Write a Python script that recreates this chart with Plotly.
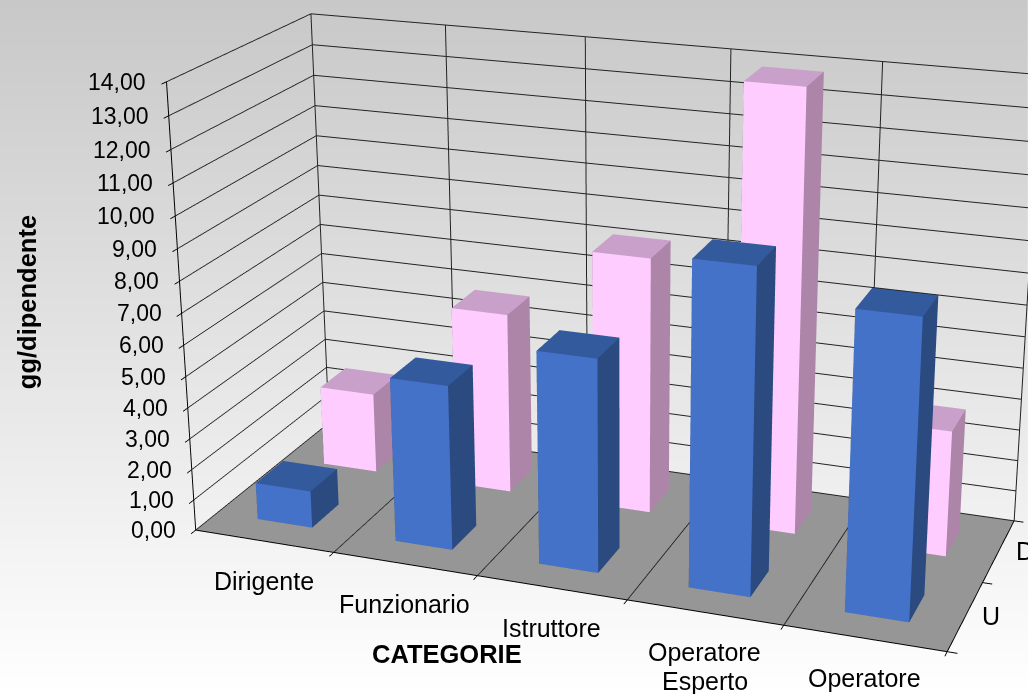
import plotly.graph_objects as go

# ---- data
categories = ["Dirigente", "Funzionario", "Istruttore", "Operatore<br>Esperto", "Operatore"]
series_names = ["U", "D"]
values_u = [1.2, 5.25, 6.7, 10.0, 9.1]
values_d = [2.65, 5.9, 8.25, 13.9, 4.0]
z_ticks = list(range(0, 15))
z_labels = [f"{v},00" for v in z_ticks]

# ---- view: the original has an off-axis, long-lens perspective. Plotly's field of
# view is fixed relative to the scene height, so the figure is larger than the window
# and is offset inside it to get the same lens.
FIG_W, FIG_H = 1280, 2055
OFF_X, OFF_Y = -39.80, -695.33
WIN_W, WIN_H = 1028, 694
EYE = dict(x=1.0035, y=-2.7213, z=1.0358)
CENTER = dict(x=0.0229, y=-0.0819, z=0.0004)
UP = dict(x=-0.1171, y=0.3247, z=0.9385)
ASPECT = dict(x=0.977, y=0.3844, z=0.5889)

FONT = "Liberation Sans"
BAR_LOW, BAR_HIGH = 0.3, 0.7
COLORS = {"U": ("#4472C8", "#2A4A80", "#345A9E"), "D": ("#FFCCFF", "#AD85A8", "#C9A0C9")}
FACES = [((0, 1, 5), 0), ((0, 5, 4), 0), ((1, 2, 6), 1), ((1, 6, 5), 1), ((4, 5, 6), 2), ((4, 6, 7), 2),
         ((3, 2, 6), 1), ((3, 6, 7), 1), ((0, 3, 7), 1), ((0, 7, 4), 1), ((0, 1, 2), 1), ((0, 2, 3), 1)]


def bar_trace(cat_i, ser_i, val, palette):
    x0, x1 = cat_i + BAR_LOW, cat_i + BAR_HIGH
    y0, y1 = ser_i + BAR_LOW, ser_i + BAR_HIGH
    return go.Mesh3d(
        x=[x0, x1, x1, x0, x0, x1, x1, x0],
        y=[y0, y0, y1, y1, y0, y0, y1, y1],
        z=[0, 0, 0, 0, val, val, val, val],
        i=[f[0][0] for f in FACES], j=[f[0][1] for f in FACES], k=[f[0][2] for f in FACES],
        facecolor=[palette[f[1]] for f in FACES], flatshading=True,
        lighting=dict(ambient=1, diffuse=0, specular=0, fresnel=0),
        hoverinfo="skip", scene="scene",
    )


fig = go.Figure()
fig.add_trace(go.Heatmap(z=[[0], [1]], x=[0, WIN_W], y=[0, WIN_H],
                         colorscale=[[0, "#c8c8c8"], [1, "#ffffff"]], showscale=False,
                         zsmooth="best", hoverinfo="skip", xaxis="x", yaxis="y"))
for s, vals in [(1, values_d), (0, values_u)]:
    for i, v in enumerate(vals):
        fig.add_trace(bar_trace(i, s, v, COLORS[series_names[s]]))

scene_text = []
for tick, label in zip(z_ticks, z_labels):
    scene_text.append(dict(x=0, y=0, z=tick, text=label, showarrow=False, xanchor="right", xshift=-18,
                           font=dict(size=23, color="black", family=FONT)))
for i, label in enumerate(categories):
    for n, line in enumerate(label.split("<br>")):
        scene_text.append(dict(x=i + .5, y=0, z=0, text=line, showarrow=False, xanchor="center",
                               yanchor="top", yshift=-24 - 29 * n,
                               font=dict(size=25, color="black", family=FONT)))
for i, label in enumerate(series_names):
    scene_text.append(dict(x=5, y=i + .5, z=0, text=label, showarrow=False, xanchor="center", xshift=26,
                           font=dict(size=25, color="black", family=FONT)))

axis_common = dict(showticklabels=False, title="", showline=True, linecolor="black", linewidth=2,
                   ticks="outside", ticklen=8, tickwidth=2, tickcolor="black",
                   zeroline=False, showspikes=False)
fig.update_layout(
    width=FIG_W, height=FIG_H, margin=dict(l=0, r=0, t=0, b=0),
    paper_bgcolor="white", plot_bgcolor="white", showlegend=False,
    xaxis=dict(visible=False, range=[OFF_X, FIG_W + OFF_X], domain=[0, 1]),
    yaxis=dict(visible=False, range=[FIG_H + OFF_Y, OFF_Y], domain=[0, 1]),
    scene=dict(
        domain=dict(x=[0, 1], y=[0, 1]), bgcolor="rgba(0,0,0,0)",
        aspectmode="manual", aspectratio=ASPECT,
        camera=dict(eye=EYE, center=CENTER, up=UP, projection=dict(type="perspective")),
        xaxis=dict(range=[0, 5], tickvals=[0, 1, 2, 3, 4, 5], showgrid=True, gridcolor="#222", gridwidth=2,
                   showbackground=False, **axis_common),
        yaxis=dict(range=[0, 2], tickvals=[0, 1, 2], showgrid=False, showbackground=False, **axis_common),
        zaxis=dict(range=[0, 14], tickvals=z_ticks, showgrid=True, gridcolor="#222", gridwidth=2,
                   showbackground=True, backgroundcolor="#969696", **axis_common),
        annotations=scene_text,
    ),
    annotations=[
        dict(x=28, y=302, xref="x", yref="y", text="<b>gg/dipendente</b>", textangle=-90, showarrow=False,
             font=dict(size=25.5, color="black", family=FONT)),
        dict(x=447, y=654, xref="x", yref="y", text="<b>CATEGORIE</b>", showarrow=False,
             font=dict(size=25.5, color="black", family=FONT)),
    ],
)
post = ("document.documentElement.style.overflow='hidden';document.body.style.margin='0';"
        "document.body.style.overflow='hidden';var g=document.getElementById('{plot_id}');"
        "g.style.position='absolute';g.style.left='%.2fpx';g.style.top='%.2fpx';" % (OFF_X, OFF_Y))
fig.write_html("out.html", post_script=post, config={"displayModeBar": False})
